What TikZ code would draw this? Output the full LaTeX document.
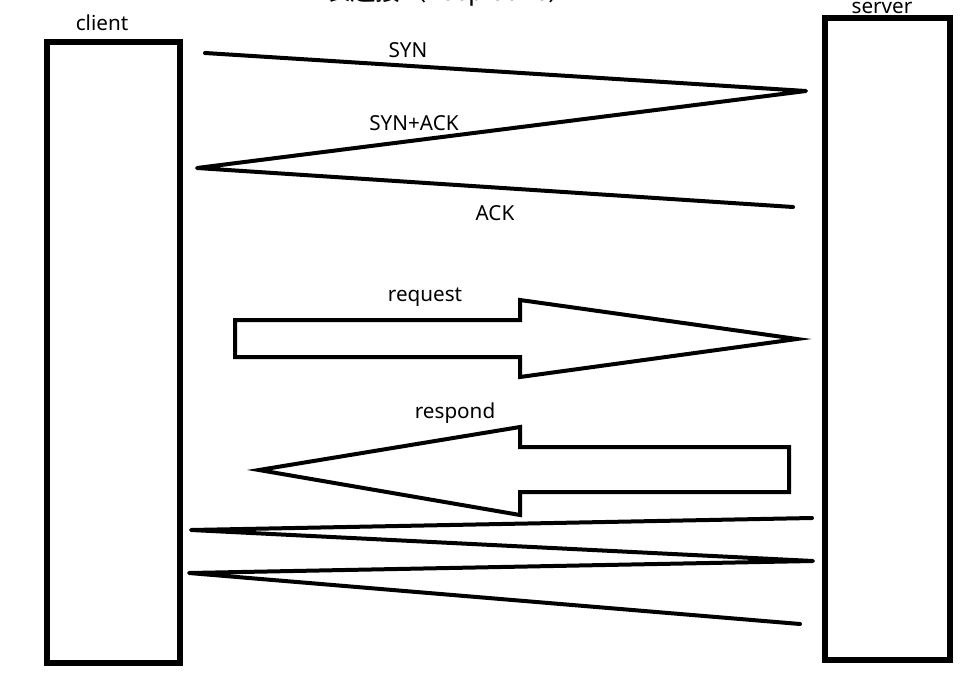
\documentclass[tikz,border=0pt]{standalone}
\usepackage{fontspec}
\setmainfont{Noto Sans}
\newfontfamily\cjk{Noto Sans CJK SC}
\begin{document}
\begin{tikzpicture}[x=0.75pt,y=-0.75pt,
  box/.style={draw=black,line width=3.8pt},
  msg/.style={draw=black,line width=3pt,line cap=round,line join=round},
  fat/.style={draw=black,line width=3pt,line join=miter},
  lbl/.style={font=\fontsize{15.5pt}{18pt}\selectfont,inner sep=0pt}]
\useasboundingbox (0,0) rectangle (980,677);
\begin{scope}
\clip (0,0) rectangle (980,677);
\node[anchor=base west,inner sep=0pt,font=\cjk\fontsize{19pt}{22pt}\selectfont] (title) at (325,1) {长连接（keep-alive）};
\end{scope}
% boxes
\draw[box] (47,42) rectangle (180,663);
\draw[box] (825,18) rectangle (950,660);
\node[lbl] (cl) at (102,23) {client};
\node[lbl] (sv) at (882,8) {server};
% handshake
\coordinate (h1) at (205,53);
\coordinate (h2) at (806,91);
\coordinate (h3) at (197,168);
\coordinate (h4) at (793,207);
\draw[msg] (h1) -- (h2) -- (h3) -- (h4);
\node[lbl] (syn) at (408,50) {SYN};
\node[lbl] (synack) at (414,123) {SYN+ACK};
\node[lbl] (ack) at (495,213) {ACK};
% request arrow
\draw[fat] (235,320) -- (520,320) -- (520,300) -- (797,339) -- (520,377) -- (520,357) -- (235,357) -- cycle;
\node[lbl] (req) at (425,297) {request};
% respond arrow
\draw[fat] (789,447) -- (520,447) -- (520,427) -- (259,470) -- (520,515) -- (520,492) -- (789,492) -- cycle;
\node[lbl] (resp) at (455,413) {respond};
% closing
\coordinate (c0) at (812,518);
\coordinate (c1) at (191,530);
\coordinate (c2) at (813,561);
\coordinate (c3) at (189,573);
\coordinate (c4) at (800,624);
\draw[msg] (c0) -- (c1) -- (c2) -- (c3) -- (c4);
\end{tikzpicture}
\end{document}
